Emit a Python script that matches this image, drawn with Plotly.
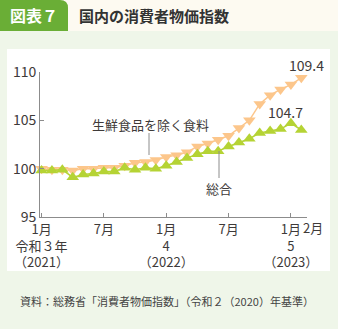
import plotly.graph_objects as go

months = list(range(26))  # Jan 2021 .. Feb 2023
food_ex_fresh = [100.0, 99.9, 99.9, 99.8, 100.0, 100.0, 100.1, 100.1, 100.3, 100.6, 100.7, 100.9,
                 101.2, 101.4, 101.7, 102.3, 102.6, 103.0, 103.4, 104.2, 105.0, 106.7, 107.6, 108.2,
                 108.7, 109.4]
overall = [99.8, 99.8, 99.9, 99.1, 99.4, 99.5, 99.7, 99.7, 100.1, 99.9, 100.1, 100.0,
           100.3, 100.7, 101.1, 101.5, 101.8, 101.8, 102.3, 102.7, 103.1, 103.7, 103.9, 104.1,
           104.7, 104.0]
tick_vals = [0, 6, 12, 18, 24, 25.55]
tick_text = ["1月<br>令和３年<br>（2021）", "7月", "1月<br>4<br>（2022）", "7月", "1月<br>5<br>（2023）", ""]
y_ticks = [95, 100, 105, 110]

W, H = 338, 329
L, R, T, B = 40, 31, 72, 112
PW, PH = W - L - R, H - T - B

def px(x):
    return (x - L) / PW

def py(y):
    return (H - B - y) / PH

FONT = "Noto Sans CJK JP"
ORANGE = "#fcc68b"
GREEN = "#b5d334"
TXT = "#3e3a39"

fig = go.Figure()
fig.add_trace(go.Scatter(x=months, y=food_ex_fresh, mode="lines+markers",
                         line=dict(color=ORANGE, width=1.5),
                         marker=dict(symbol="triangle-down", size=11, color=ORANGE),
                         showlegend=False, cliponaxis=False))
fig.add_trace(go.Scatter(x=months, y=overall, mode="lines+markers",
                         line=dict(color=GREEN, width=1.5),
                         marker=dict(symbol="triangle-up", size=11, color=GREEN),
                         showlegend=False, cliponaxis=False))

shapes = [
    dict(type="rect", xref="paper", yref="paper", x0=px(0), x1=px(W), y0=py(0), y1=py(31),
         fillcolor="#fdfaf1", line_width=0, layer="below"),
    dict(type="path", xref="paper", yref="paper",
         path=f"M {px(0)} {py(0)} L {px(60)} {py(0)} Q {px(68)} {py(0)} {px(68)} {py(8)} L {px(68)} {py(31)} L {px(0)} {py(31)} Z",
         fillcolor="#6aae36", line_width=0, layer="below"),
    dict(type="rect", xref="paper", yref="paper", x0=px(7), x1=px(330), y0=py(49), y1=py(271),
         fillcolor="#ffffff", line_width=0, layer="below"),
    dict(type="line", xref="paper", yref="paper", x0=px(149), x1=px(149), y0=py(133), y1=py(155),
         line=dict(color="#8c8c8c", width=1)),
    dict(type="line", xref="paper", yref="paper", x0=px(219), x1=px(219), y0=py(151), y1=py(178),
         line=dict(color="#8c8c8c", width=1)),
]

annotations = [
    dict(x=px(34), y=py(15), xref="paper", yref="paper", text="<b>図表７</b>", showarrow=False,
         font=dict(family=FONT, size=16, color="white"), xanchor="center", yanchor="middle"),
    dict(x=px(77), y=py(15), xref="paper", yref="paper", text="<b>国内の消費者物価指数</b>", showarrow=False,
         font=dict(family=FONT, size=15, color="#333333"), xanchor="left", yanchor="middle"),
    dict(x=25, y=food_ex_fresh[-1], text="109.4", showarrow=False, xshift=5, yshift=13,
         font=dict(family=FONT, size=14, color=TXT), xanchor="center", yanchor="middle"),
    dict(x=24, y=overall[-2], text="104.7", showarrow=False, xshift=-5, yshift=11,
         font=dict(family=FONT, size=14, color=TXT), xanchor="center", yanchor="middle"),
    dict(x=px(150), y=py(124), xref="paper", yref="paper", text="生鮮食品を除く食料", showarrow=False,
         font=dict(family=FONT, size=13, color=TXT), xanchor="center", yanchor="middle"),
    dict(x=px(219), y=py(188), xref="paper", yref="paper", text="総合", showarrow=False,
         font=dict(family=FONT, size=13, color=TXT), xanchor="center", yanchor="middle"),
    dict(x=px(313), y=py(227), xref="paper", yref="paper", text="2月", showarrow=False,
         font=dict(family=FONT, size=13, color=TXT), xanchor="center", yanchor="middle"),
    dict(x=px(18), y=py(301), xref="paper", yref="paper",
         text="資料：総務省「消費者物価指数」（令和２（2020）年基準）", showarrow=False,
         font=dict(family=FONT, size=11, color="#444444"), xanchor="left", yanchor="middle"),
]

fig.update_layout(
    width=W, height=H,
    margin=dict(l=L, r=R, t=T, b=B),
    paper_bgcolor="#eff6e9",
    plot_bgcolor="rgba(0,0,0,0)",
    shapes=shapes,
    annotations=annotations,
    font=dict(family=FONT, color=TXT),
    xaxis=dict(range=[-0.15, 25.55], tickvals=tick_vals, ticktext=tick_text, tickangle=0,
               showgrid=False, zeroline=False, showline=True, linecolor="#8c8c8c", linewidth=1,
               ticks="inside", ticklen=4, tickcolor="#8c8c8c", tickfont=dict(size=13, color=TXT)),
    yaxis=dict(range=[95, 110], tickvals=y_ticks, showgrid=False, zeroline=False,
               showline=True, linecolor="#8c8c8c", linewidth=1,
               ticks="inside", ticklen=4, tickcolor="#8c8c8c", tickfont=dict(size=14, color=TXT)),
)

fig.write_html("out.html")
